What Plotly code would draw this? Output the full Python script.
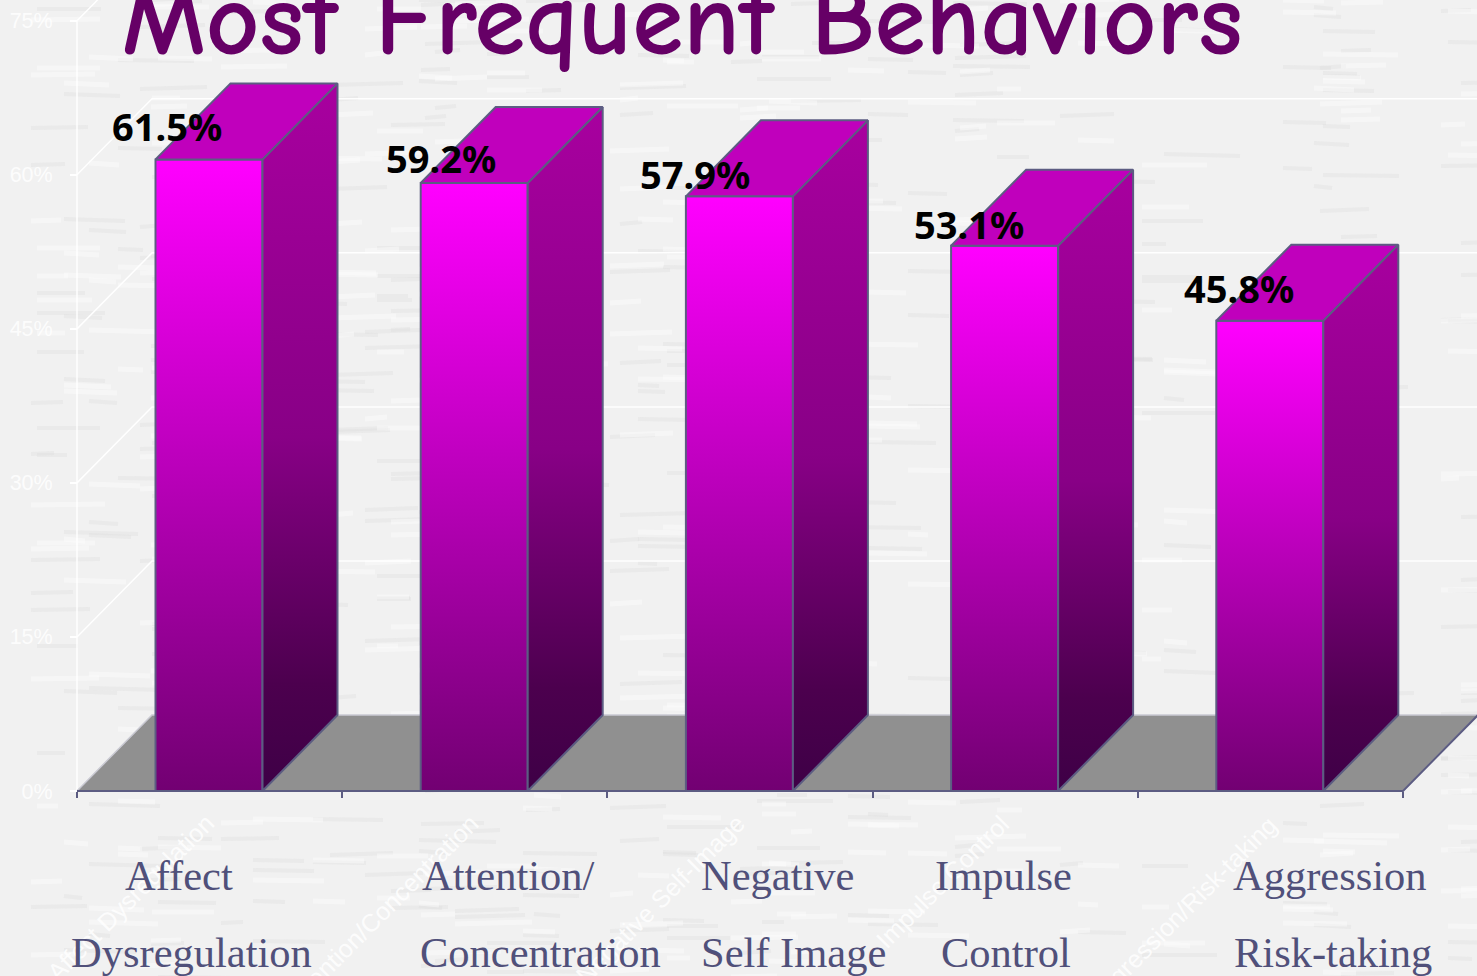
import plotly.graph_objects as go

categories = ["Affect Dysregulation", "Attention/Concentration", "Negative Self-Image",
              "Impulse Control", "Aggression/Risk-taking"]
values = [61.5, 59.2, 57.9, 53.1, 45.8]
label_lines = [["Affect", "Dysregulation"], ["Attention/", "Concentration"],
               ["Negative", "Self Image"], ["Impulse", "Control"], ["Aggression", "Risk-taking"]]
y_ticks = [0, 15, 30, 45, 60, 75]
title_text = "Most Frequent Behaviors"

W, H = 1477, 976
X0_PX, Y0_PX, CAT_PX, PCT_PX = 77, 791, 265.2, 10.27
DX, DY = 75 / CAT_PX, 76 / PCT_PX
BAR_W = 107 / CAT_PX
BAR_OFF = 78.5 / CAT_PX
OUTLINE = "#5c5c82"


def px(x):
    return (x - X0_PX) / CAT_PX


def py(y):
    return (Y0_PX - y) / PCT_PX


fig = go.Figure()

# paper texture: faint streaks built from a fixed integer walk
sx_w, sy_w, sx_g, sy_g = [], [], [], []
a, b = 37, 211
for i in range(900):
    a = (a * 61 + 17) % 1483
    b = (b * 43 + 29) % 983
    ln = 18 + (a + b) % 60
    drift = (a % 5) - 2
    if i % 2:
        sx_w += [px(a), px(a + ln), None]
        sy_w += [py(b), py(b + drift), None]
    else:
        sx_g += [px(a), px(a + ln), None]
        sy_g += [py(b), py(b + drift), None]
fig.add_trace(go.Scatter(x=sx_g, y=sy_g, mode="lines", line=dict(color="rgba(220,220,220,0.35)", width=4),
                         hoverinfo="skip"))
fig.add_trace(go.Scatter(x=sx_w, y=sy_w, mode="lines", line=dict(color="rgba(255,255,255,0.4)", width=5),
                         hoverinfo="skip"))

# back wall gridlines and left wall diagonals
gx, gy = [], []
for v in y_ticks[1:]:
    gx += [0, DX, 5 + DX, None]
    gy += [v, v + DY, v + DY, None]
gx += [0, 0, None]
gy += [0, 75, None]
fig.add_trace(go.Scatter(x=gx, y=gy, mode="lines", line=dict(color="rgba(255,255,255,0.95)", width=1.5),
                         hoverinfo="skip"))

# floor
fig.add_trace(go.Scatter(x=[0, DX, 5 + DX, 5, 0], y=[0, DY, DY, 0, 0], mode="lines", fill="toself",
                         fillcolor="#909090", line=dict(color="#c9c9d2", width=1.5), hoverinfo="skip"))
fig.add_trace(go.Scatter(x=[5 + DX, 5, 0], y=[DY, 0, 0], mode="lines",
                         line=dict(color=OUTLINE, width=2), hoverinfo="skip"))

front_scale = [[0, "#720072"], [1, "#ff00ff"]]
side_scale = [[0, "#3e0046"], [0.15, "#4c004e"], [0.5, "#880086"], [1, "#a8009f"]]

for i, v in enumerate(values):
    l = i + BAR_OFF
    r = l + BAR_W
    fig.add_trace(go.Scatter(x=[l, r, r, l, l], y=[0, 0, v, v, 0], mode="lines", fill="toself",
                             fillgradient=dict(type="vertical", colorscale=front_scale),
                             line=dict(color=OUTLINE, width=2), hoverinfo="skip"))
    fig.add_trace(go.Scatter(x=[r, r + DX, r + DX, r, r], y=[0, DY, v + DY, v, 0], mode="lines", fill="toself",
                             fillgradient=dict(type="vertical", colorscale=side_scale),
                             line=dict(color=OUTLINE, width=2), hoverinfo="skip"))
    fig.add_trace(go.Scatter(x=[l, r, r + DX, l + DX, l], y=[v, v, v + DY, v + DY, v], mode="lines", fill="toself",
                             fillcolor="#c000bc", line=dict(color=OUTLINE, width=2), hoverinfo="skip"))

annotations = []


def note(x, y, text, size, color, family, angle=0, xanchor="center", bold=False):
    annotations.append(dict(x=px(x), y=py(y), xref="x", yref="y", text=f"<b>{text}</b>" if bold else text,
                            showarrow=False, xanchor=xanchor, yanchor="middle", textangle=angle,
                            font=dict(size=size, color=color, family=family)))


# rotated pale axis labels
wm_centers = [(130, 898), (381, 912), (660, 899), (942, 882), (1182, 911)]
for c, (x, y) in zip(categories, wm_centers):
    note(x, y, c, 25, "rgba(255,255,255,0.85)", "Liberation Sans", angle=-45)

# category captions
line1_x = [123, 420, 699, 933, 1231]
line2_x = [69, 418, 699, 939, 1232]
for lines, x1, x2 in zip(label_lines, line1_x, line2_x):
    note(x1, 875, lines[0], 42.5, "#50507a", "Liberation Serif", xanchor="left")
    note(x2, 952, lines[1], 42.5, "#50507a", "Liberation Serif", xanchor="left")

# value labels
lab_x = [167, 441, 695, 969, 1239]
lab_y = [126, 158, 174, 224, 288]
for v, x, y in zip(values, lab_x, lab_y):
    note(x, y, f"{v:.1f}%", 38, "#000000", "Noto Sans", bold=True)

note(682, 20, title_text, 104, "#660066", "Comic Sans MS, Comic Neue, Lato", bold=True)

fig.update_layout(
    width=W, height=H, autosize=False, showlegend=False,
    margin=dict(l=0, r=0, t=0, b=0),
    paper_bgcolor="#f1f1f1", plot_bgcolor="rgba(0,0,0,0)",
    annotations=annotations,
    xaxis=dict(range=[px(0), px(W)], showgrid=False, zeroline=False, showline=False,
               tickmode="array", tickvals=list(range(6)), ticktext=[""] * 6, ticks="outside", ticklen=6,
               tickcolor=OUTLINE, tickwidth=1.5, anchor="free", position=(H - Y0_PX) / H,
               fixedrange=True),
    yaxis=dict(range=[py(H), py(0)], showgrid=False, zeroline=False, showline=False,
               tickmode="array", tickvals=y_ticks, ticktext=[f"{t}%" for t in y_ticks],
               ticks="outside", ticklen=7, tickcolor="rgba(255,255,255,0.95)", tickwidth=1.5,
               ticklabelstandoff=13,
               tickfont=dict(size=21.5, color="rgba(255,255,255,0.85)", family="Liberation Sans"),
               anchor="free", position=X0_PX / W, fixedrange=True),
)

fig.write_html("out.html", config=dict(displayModeBar=False),
               post_script="document.body.style.margin='0';document.body.style.overflow='hidden';"
                           "document.body.style.background='#f1f1f1';")
